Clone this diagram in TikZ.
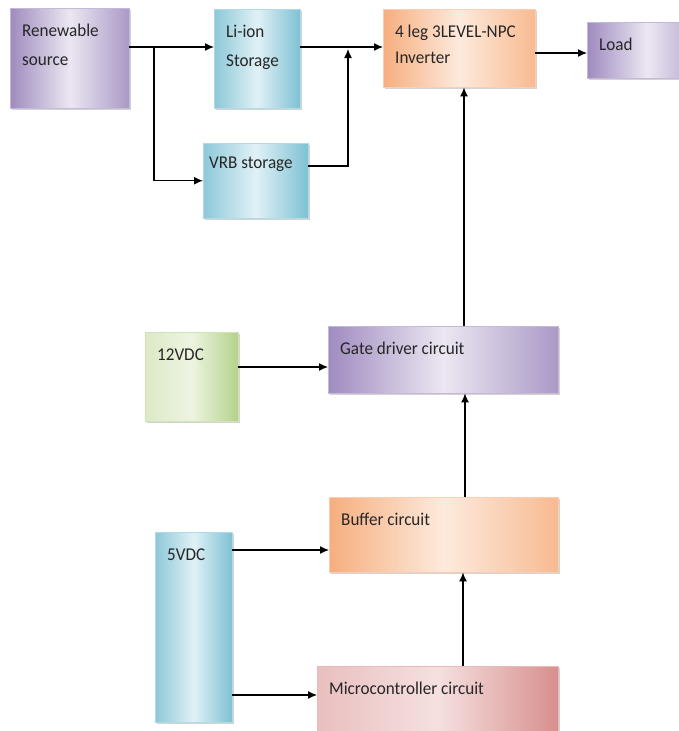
\documentclass[tikz,border=0pt]{standalone}
\usepackage{fontspec}
\setmainfont{Carlito}[FakeStretch=0.95]
\usetikzlibrary{arrows.meta,shadows}
\definecolor{purD}{HTML}{9F8BBF}
\definecolor{purL}{HTML}{ECE7F2}
\definecolor{bluD}{HTML}{7EC1D3}
\definecolor{bluL}{HTML}{E0F1F6}
\definecolor{oraD}{HTML}{F6AE7E}
\definecolor{oraL}{HTML}{FDEADD}
\definecolor{grnD}{HTML}{B3D28A}
\definecolor{grnL}{HTML}{EDF4E1}
\definecolor{redD}{HTML}{D98E8E}
\definecolor{redL}{HTML}{F5E0E0}
\newcommand\twoln[2]{\vtop{\baselineskip=29pt\hbox{#1}\hbox{#2}}}
\begin{document}
\begin{tikzpicture}[x=1pt,y=-1pt,
  font=\fontsize{18}{29}\selectfont,
  txt/.style={anchor=base west,inner sep=0pt,xshift=12pt,yshift=-28pt,text=black!85},
  blk/.style={rectangle,anchor=north west,inner sep=0pt,
    drop shadow={shadow xshift=1.5pt,shadow yshift=-1.5pt,opacity=0.35}},
  pbox/.style={blk,draw=purD!60!white,left color=purD,right color=purD!85!purL,middle color=purL},
  bbox/.style={blk,draw=bluD!60!white,left color=bluD!85!bluL,right color=bluD,middle color=bluL},
  obox/.style={blk,draw=oraD!60!white,left color=oraD,right color=oraD!80!oraL,middle color=oraL},
  gbox/.style={blk,draw=grnD!60!white,left color=grnL!70!grnD,right color=grnD,middle color=grnL},
  rbox/.style={blk,draw=redD!60!white,left color=redL!60!redD,right color=redD,middle color=redL},
  ln/.style={line width=1.2pt,black},
  arr/.style={ln,-{Latex[length=9pt,width=8pt]}}]
\useasboundingbox (0,0) rectangle (679,731);
\clip (0,0) rectangle (679,731);

\node[pbox,minimum width=119pt,minimum height=100pt,
  label={[txt]north west:\twoln{Renewable}{source}}] (rs) at (10,8) {};
\node[bbox,minimum width=86pt,minimum height=99pt,
  label={[txt]north west:\twoln{Li-ion}{Storage}}] (li) at (214,9) {};
\node[bbox,minimum width=105pt,minimum height=75pt,
  label={[txt,xshift=-6pt,yshift=3pt]north west:VRB storage}] (vrb) at (203,143) {};
\node[obox,minimum width=152pt,minimum height=78pt,
  label={[txt]north west:\vtop{\baselineskip=26pt\hbox{4 leg 3LEVEL-NPC}\hbox{Inverter}}}] (inv) at (383,9) {};
\node[pbox,minimum width=120pt,minimum height=56pt,
  label={[txt]north west:Load}] (load) at (587,22) {};
\node[gbox,minimum width=93pt,minimum height=89pt,
  label={[txt]north west:12VDC}] (v12) at (145,332) {};
\node[pbox,minimum width=230pt,minimum height=67pt,
  label={[txt]north west:Gate driver circuit}] (gate) at (328,326) {};
\node[obox,minimum width=229pt,minimum height=75pt,
  label={[txt]north west:Buffer circuit}] (buf) at (329,497) {};
\node[bbox,minimum width=77pt,minimum height=190pt,
  label={[txt]north west:5VDC}] (v5) at (155,532) {};
\node[rbox,minimum width=241pt,minimum height=80pt,
  label={[txt]north west:Microcontroller circuit}] (mc) at (317,666) {};

\coordinate (j1) at (154,47);
\coordinate (j2) at (348,166);
\coordinate (j3) at (348,49);
\coordinate (j4) at (560,53);
\coordinate (v1) at (464,200);
\coordinate (v2) at (465,450);
\coordinate (v3) at (463,620);
\coordinate (h1) at (280,367);
\coordinate (h2) at (280,550);
\coordinate (h3) at (280,695);

\draw[arr] (rs.east |- j1) -- (li.west |- j1);
\draw[arr] (j1) |- (vrb.west);
\draw[arr] (li.east |- j1) -- (inv.west |- j1);
\draw[arr] (vrb.east |- j2) -| (j3);
\draw[arr] (inv.east |- j4) -- (load.west |- j4);
\draw[arr] (gate.north -| v1) -- (inv.south -| v1);
\draw[arr] (v12.east |- h1) -- (gate.west |- h1);
\draw[arr] (buf.north -| v2) -- (gate.south -| v2);
\draw[arr] (v5.east |- h2) -- (buf.west |- h2);
\draw[arr] (v5.east |- h3) -- (mc.west |- h3);
\draw[arr] (mc.north -| v3) -- (buf.south -| v3);
\end{tikzpicture}
\end{document}
